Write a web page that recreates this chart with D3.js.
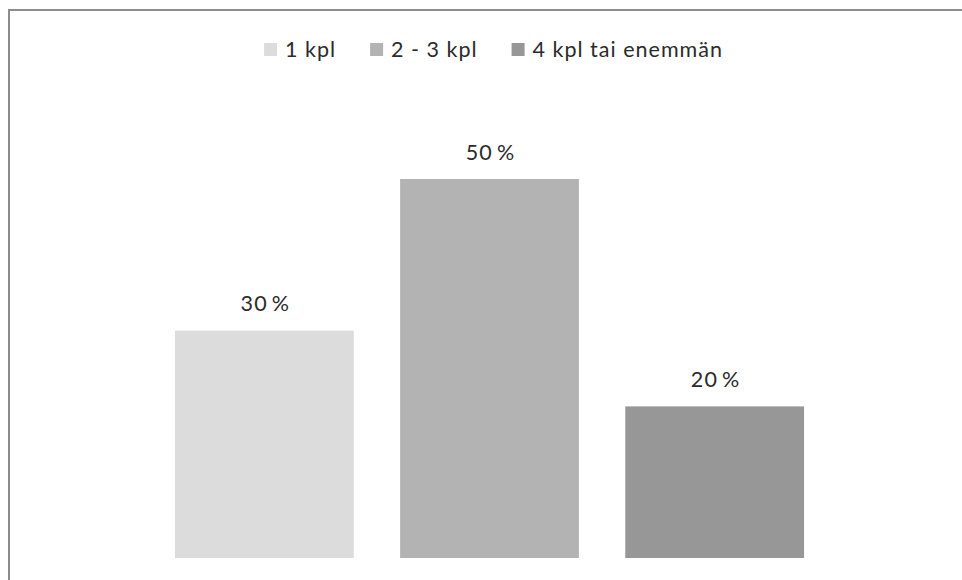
<!DOCTYPE html>
<html>
<head>
<meta charset="utf-8">
<script src="https://cdn.jsdelivr.net/npm/d3@7/dist/d3.min.js"></script>
<style>
  html, body { margin: 0; padding: 0; background: #fff; }
  svg { display: block; }
  text { font-family: Lato, "Open Sans", sans-serif; fill: #2b2b2b; }
</style>
</head>
<body>
<svg id="chart" width="962" height="580"></svg>
<script>
// Share of answers by number of items
const categories = ["1 kpl", "2 - 3 kpl", "4 kpl tai enemmän"];
const values = [30, 50, 20];
const colors = ["#dcdcdc", "#b3b3b3", "#979797"];
const valueLabels = ["30\u2009%", "50\u2009%", "20\u2009%"];

const svg = d3.select("#chart");
const W = 962, H = 580;

// Frame: only the top and left edges fall inside the view
svg.append("path")
  .attr("d", `M9,${H} L9,10 L${W},10`)
  .attr("fill", "none")
  .attr("stroke", "#8c8c8c")
  .attr("stroke-width", 2);

const x = d3.scaleBand()
  .domain(categories)
  .range([151.75, 827.25])
  .paddingInner(0.206)
  .paddingOuter(0.103);

const y = d3.scaleLinear()
  .domain([0, 50])
  .range([558, 179]);

const bars = svg.append("g");
bars.selectAll("rect")
  .data(categories)
  .join("rect")
  .attr("x", d => x(d))
  .attr("width", x.bandwidth())
  .attr("y", (d, i) => y(values[i]))
  .attr("height", (d, i) => y(0) - y(values[i]))
  .attr("fill", (d, i) => colors[i]);

bars.selectAll("text")
  .data(categories)
  .join("text")
  .attr("x", d => x(d) + x.bandwidth() / 2 + 1)
  .attr("y", (d, i) => y(values[i]) - 19.5)
  .attr("text-anchor", "middle")
  .attr("font-size", 21.5)
  .attr("letter-spacing", 1.2)
  .text((d, i) => valueLabels[i]);

// Legend, centred across the top
const legend = svg.append("g");
const items = legend.selectAll("g")
  .data(categories)
  .join("g");
items.append("rect")
  .attr("width", 13)
  .attr("height", 13)
  .attr("y", -14)
  .attr("fill", (d, i) => colors[i]);
items.append("text")
  .attr("x", 21)
  .attr("font-size", 21.5)
  .attr("letter-spacing", 1.0)
  .text(d => d);

let cursor = 0;
const gap = 34;
items.each(function () {
  const g = d3.select(this);
  g.attr("transform", `translate(${cursor},0)`);
  cursor += 21 + g.select("text").node().getComputedTextLength() + gap;
});
const total = cursor - gap;
legend.attr("transform", `translate(${493.5 - total / 2},57)`);
</script>
</body>
</html>
